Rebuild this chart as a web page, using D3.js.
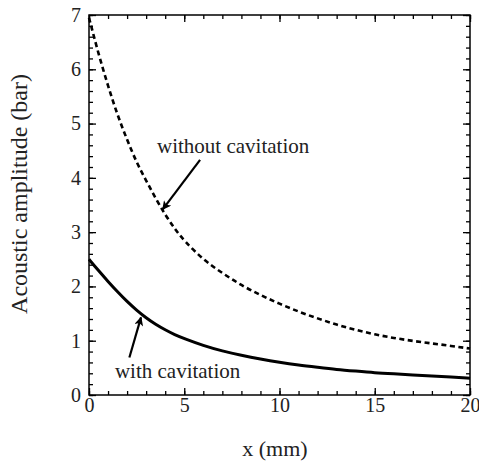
<!DOCTYPE html>
<html>
<head>
<meta charset="utf-8">
<script src="https://cdn.jsdelivr.net/npm/d3@7"></script>
<style>
  body { margin: 0; background: #fff; }
  svg text { font-family: "Liberation Serif", Tinos, "Times New Roman", Times, "Noto Serif", "DejaVu Serif", serif; fill: #222; }
  .axis path { display: none; }
  .axis line { stroke: #000; stroke-width: 1.3; }
</style>
</head>
<body>
<script>
// Chart data
var xValues = [0, 0.5, 1, 1.5, 2, 2.5, 3, 3.5, 4, 4.5, 5, 6, 7, 8, 9, 10, 11, 12, 13, 14, 15, 16, 17, 18, 19, 20];
var withoutCavitation = [6.95, 6.28, 5.69, 5.15, 4.70, 4.28, 3.95, 3.62, 3.32, 3.06, 2.84, 2.49, 2.245, 2.02, 1.84, 1.68, 1.535, 1.41, 1.295, 1.20, 1.115, 1.05, 0.995, 0.95, 0.905, 0.855];
var withCavitation = [2.50, 2.29, 2.09, 1.90, 1.72, 1.56, 1.42, 1.30, 1.20, 1.11, 1.04, 0.91, 0.81, 0.73, 0.66, 0.60, 0.55, 0.51, 0.47, 0.44, 0.41, 0.39, 0.37, 0.35, 0.33, 0.31];
var xMajorTicks = [0, 5, 10, 15, 20];
var yMajorTicks = [0, 1, 2, 3, 4, 5, 6, 7];
var xLabel = "x (mm)";
var yLabel = "Acoustic amplitude (bar)";
// annotations in data units: [text, textX, textY, arrowFromX, arrowFromY, arrowToX, arrowToY]
var annoWithout = ["without cavitation", 3.57, 4.46, 5.83, 4.33, 3.87, 3.42];
var annoWith = ["with cavitation", 1.36, 0.31, 2.12, 0.69, 2.73, 1.43];

var svgWidth = 479;
var svgHeight = 464;
var margin = { top: 15, right: 9, bottom: 69, left: 89 };
var chartWidth = svgWidth - margin.left - margin.right;
var chartHeight = svgHeight - margin.top - margin.bottom;

var svg = d3.select("body")
  .append("svg")
  .attr("width", svgWidth)
  .attr("height", svgHeight);

svg.append("defs").append("marker")
  .attr("id", "arrow")
  .attr("viewBox", "0 0 10 10")
  .attr("refX", 9)
  .attr("refY", 5)
  .attr("markerUnits", "userSpaceOnUse")
  .attr("markerWidth", 11)
  .attr("markerHeight", 9)
  .attr("orient", "auto")
  .append("path")
  .attr("d", "M0,0 L10,5 L0,10 L2.5,5 Z")
  .attr("fill", "#000");

var chartGroup = svg.append("g")
  .attr("transform", `translate(${margin.left}, ${margin.top})`);

var xScale = d3.scaleLinear().domain([0, 20]).range([0, chartWidth]);
var yScale = d3.scaleLinear().domain([0, 7]).range([chartHeight, 0]);

var xMinor = d3.range(0, 20.01, 1);
var yMinor = d3.range(0, 7.01, 0.2);

// minor ticks, all four sides, pointing inwards
chartGroup.append("g").classed("axis", true)
  .attr("transform", `translate(0, ${chartHeight})`)
  .call(d3.axisBottom(xScale).tickValues(xMinor).tickSize(-4).tickFormat(""));
chartGroup.append("g").classed("axis", true)
  .call(d3.axisTop(xScale).tickValues(xMinor).tickSize(-4).tickFormat(""));
chartGroup.append("g").classed("axis", true)
  .call(d3.axisLeft(yScale).tickValues(yMinor).tickSize(-4).tickFormat(""));
chartGroup.append("g").classed("axis", true)
  .attr("transform", `translate(${chartWidth}, 0)`)
  .call(d3.axisRight(yScale).tickValues(yMinor).tickSize(-4).tickFormat(""));

// major ticks with labels
chartGroup.append("g").classed("axis", true)
  .attr("transform", `translate(0, ${chartHeight})`)
  .call(d3.axisBottom(xScale).tickValues(xMajorTicks).tickSize(-7).tickPadding(3).tickFormat(d3.format("d")));
chartGroup.append("g").classed("axis", true)
  .call(d3.axisLeft(yScale).tickValues(yMajorTicks).tickSize(-7).tickPadding(8).tickFormat(d3.format("d")));
chartGroup.append("g").classed("axis", true)
  .call(d3.axisTop(xScale).tickValues(xMajorTicks).tickSize(-7).tickFormat(""));
chartGroup.append("g").classed("axis", true)
  .attr("transform", `translate(${chartWidth}, 0)`)
  .call(d3.axisRight(yScale).tickValues(yMajorTicks).tickSize(-7).tickFormat(""));

chartGroup.selectAll(".axis")
  .attr("font-family", null)
  .attr("font-size", null);
chartGroup.selectAll(".axis text")
  .style("font-size", "20px");

// frame
chartGroup.append("rect")
  .attr("x", 0).attr("y", 0)
  .attr("width", chartWidth).attr("height", chartHeight)
  .attr("fill", "none")
  .attr("stroke", "#000")
  .attr("stroke-width", 1.5);

var drawLine = d3.line()
  .x(d => xScale(d[0]))
  .y(d => yScale(d[1]))
  .curve(d3.curveBasis);

chartGroup.append("path")
  .attr("d", drawLine(xValues.map((x, i) => [x, withoutCavitation[i]])))
  .attr("fill", "none")
  .attr("stroke", "#000")
  .attr("stroke-width", 2.6)
  .attr("stroke-dasharray", "5,3.5");

chartGroup.append("path")
  .attr("d", drawLine(xValues.map((x, i) => [x, withCavitation[i]])))
  .attr("fill", "none")
  .attr("stroke", "#000")
  .attr("stroke-width", 3);

// annotations
[annoWithout, annoWith].forEach(a => {
  chartGroup.append("text")
    .attr("x", xScale(a[1]))
    .attr("y", yScale(a[2]))
    .style("font-size", "21px")
    .text(a[0]);
  chartGroup.append("line")
    .attr("x1", xScale(a[3])).attr("y1", yScale(a[4]))
    .attr("x2", xScale(a[5])).attr("y2", yScale(a[6]))
    .attr("stroke", "#000")
    .attr("stroke-width", 2.2)
    .attr("marker-end", "url(#arrow)");
});

// axis titles
svg.append("text")
  .attr("x", 275)
  .attr("y", 456)
  .attr("text-anchor", "middle")
  .style("font-size", "22px")
  .text(xLabel);

svg.append("text")
  .attr("transform", "translate(27, 194) rotate(-90)")
  .attr("text-anchor", "middle")
  .style("font-size", "24px")
  .text(yLabel);
</script>
</body>
</html>
